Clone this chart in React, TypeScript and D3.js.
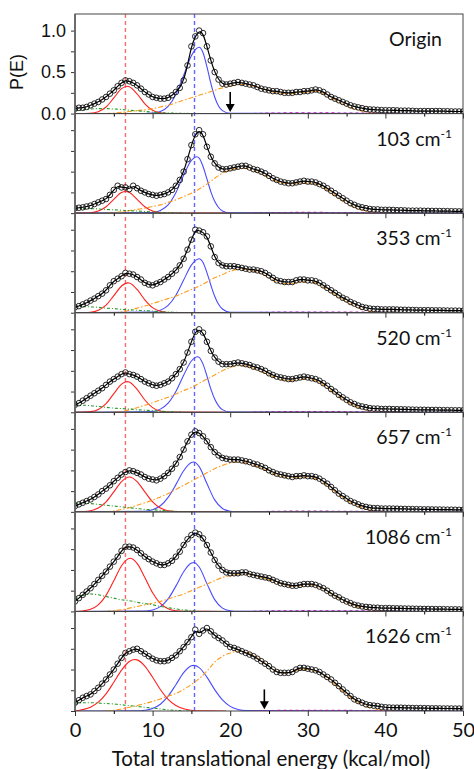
import React, { useRef, useEffect } from 'react'
import * as d3 from 'd3'

type Pt = [number, number]

// panels, top to bottom
const panelLabels = ['Origin', '103', '353', '520', '657', '1086', '1626']

// measured P(E) points, one every 0.5 kcal/mol from 0 to 50
const energyStep = 0.5

const pOrigin = [
  0.06, 0.07, 0.07, 0.08, 0.10, 0.12, 0.14, 0.17, 0.20, 0.24,
  0.28, 0.33, 0.37, 0.40, 0.39, 0.37, 0.34, 0.30, 0.26, 0.23,
  0.20, 0.19, 0.18, 0.18, 0.19, 0.22, 0.26, 0.31, 0.40, 0.58,
  0.81, 0.93, 1.00, 0.97, 0.81, 0.64, 0.50, 0.41, 0.36, 0.35,
  0.36, 0.37, 0.38, 0.37, 0.36, 0.35, 0.34, 0.32, 0.30, 0.29,
  0.28, 0.27, 0.27, 0.26, 0.25, 0.25, 0.25, 0.26, 0.26, 0.27,
  0.27, 0.28, 0.29, 0.28, 0.26, 0.23, 0.20, 0.18, 0.16, 0.14,
  0.12, 0.10, 0.085, 0.075, 0.065, 0.055, 0.05, 0.048, 0.045, 0.042,
  0.04, 0.04, 0.04, 0.038, 0.035, 0.035, 0.035, 0.033, 0.03, 0.03,
  0.03, 0.03, 0.03, 0.03, 0.03, 0.028, 0.028, 0.026, 0.025, 0.025,
  0.025,
]
const p103 = [
  0.06, 0.065, 0.07, 0.08, 0.09, 0.11, 0.13, 0.15, 0.17, 0.22,
  0.28, 0.33, 0.31, 0.31, 0.29, 0.33, 0.30, 0.27, 0.25, 0.23,
  0.22, 0.21, 0.22, 0.23, 0.25, 0.28, 0.33, 0.40, 0.50, 0.65,
  0.82, 0.95, 1.00, 0.95, 0.80, 0.68, 0.60, 0.55, 0.53, 0.53,
  0.54, 0.55, 0.56, 0.57, 0.57, 0.55, 0.53, 0.52, 0.50, 0.48,
  0.45, 0.42, 0.40, 0.38, 0.37, 0.36, 0.36, 0.37, 0.38, 0.39,
  0.38, 0.38, 0.37, 0.35, 0.33, 0.30, 0.27, 0.24, 0.21, 0.18,
  0.15, 0.12, 0.10, 0.08, 0.07, 0.06, 0.05, 0.045, 0.045, 0.04,
  0.04, 0.04, 0.038, 0.035, 0.035, 0.033, 0.03, 0.03, 0.03, 0.03,
  0.028, 0.028, 0.027, 0.026, 0.025, 0.025, 0.024, 0.023, 0.022, 0.021,
  0.02,
]
const p353 = [
  0.065, 0.08, 0.10, 0.12, 0.146, 0.17, 0.20, 0.23, 0.27, 0.33,
  0.38, 0.41, 0.44, 0.48, 0.47, 0.46, 0.43, 0.40, 0.36, 0.34,
  0.33, 0.35, 0.37, 0.40, 0.43, 0.47, 0.51, 0.57, 0.65, 0.76,
  0.88, 1.00, 0.99, 0.97, 0.92, 0.80, 0.67, 0.60, 0.57, 0.56,
  0.56, 0.56, 0.55, 0.54, 0.53, 0.52, 0.52, 0.51, 0.50, 0.48,
  0.45, 0.42, 0.39, 0.38, 0.37, 0.37, 0.37, 0.39, 0.40, 0.40,
  0.39, 0.39, 0.38, 0.36, 0.33, 0.30, 0.27, 0.24, 0.21, 0.18,
  0.16, 0.13, 0.11, 0.09, 0.07, 0.06, 0.05, 0.045, 0.045, 0.04,
  0.04, 0.04, 0.04, 0.038, 0.036, 0.035, 0.034, 0.033, 0.032, 0.03,
  0.03, 0.03, 0.029, 0.028, 0.028, 0.027, 0.026, 0.025, 0.025, 0.024,
  0.023,
]
const p520 = [
  0.09, 0.11, 0.14, 0.17, 0.20, 0.23, 0.26, 0.29, 0.33, 0.37,
  0.40, 0.43, 0.46, 0.48, 0.46, 0.45, 0.43, 0.40, 0.37, 0.35,
  0.33, 0.32, 0.33, 0.35, 0.37, 0.41, 0.46, 0.52, 0.60, 0.72,
  0.85, 0.97, 1.00, 0.96, 0.85, 0.74, 0.66, 0.61, 0.58, 0.58,
  0.58, 0.59, 0.60, 0.59, 0.58, 0.57, 0.55, 0.54, 0.52, 0.50,
  0.47, 0.45, 0.43, 0.42, 0.41, 0.40, 0.40, 0.41, 0.42, 0.43,
  0.42, 0.41, 0.40, 0.38, 0.35, 0.32, 0.28, 0.25, 0.21, 0.18,
  0.15, 0.12, 0.10, 0.08, 0.07, 0.06, 0.05, 0.045, 0.045, 0.04,
  0.04, 0.04, 0.038, 0.037, 0.036, 0.035, 0.034, 0.032, 0.031, 0.03,
  0.03, 0.029, 0.028, 0.028, 0.027, 0.026, 0.026, 0.025, 0.024, 0.024,
  0.023,
]
const p657 = [
  0.07, 0.09, 0.11, 0.13, 0.15, 0.18, 0.21, 0.25, 0.28, 0.32,
  0.37, 0.41, 0.45, 0.48, 0.50, 0.49, 0.47, 0.45, 0.42, 0.40,
  0.39, 0.38, 0.40, 0.43, 0.47, 0.52, 0.58, 0.66, 0.75, 0.85,
  0.93, 0.97, 0.95, 0.91, 0.85, 0.78, 0.72, 0.68, 0.65, 0.64,
  0.63, 0.63, 0.63, 0.62, 0.61, 0.60, 0.58, 0.57, 0.55, 0.53,
  0.50, 0.48, 0.46, 0.45, 0.44, 0.43, 0.42, 0.43, 0.43, 0.44,
  0.43, 0.43, 0.42, 0.40, 0.37, 0.34, 0.30, 0.26, 0.22, 0.19,
  0.16, 0.13, 0.11, 0.09, 0.07, 0.06, 0.05, 0.045, 0.045, 0.04,
  0.04, 0.04, 0.039, 0.038, 0.036, 0.035, 0.034, 0.033, 0.032, 0.031,
  0.03, 0.03, 0.029, 0.028, 0.028, 0.027, 0.026, 0.026, 0.025, 0.024,
  0.024,
]
const p1086 = [
  0.12, 0.16, 0.20, 0.24, 0.28, 0.33, 0.38, 0.43, 0.48, 0.54,
  0.60, 0.66, 0.73, 0.78, 0.78, 0.77, 0.74, 0.70, 0.66, 0.63,
  0.60, 0.58, 0.56, 0.56, 0.58, 0.61, 0.66, 0.72, 0.80, 0.87,
  0.92, 0.95, 0.93, 0.88, 0.80, 0.71, 0.62, 0.55, 0.50, 0.47,
  0.46, 0.46, 0.46, 0.47, 0.47, 0.45, 0.44, 0.43, 0.42, 0.41,
  0.40, 0.38, 0.36, 0.34, 0.33, 0.32, 0.31, 0.31, 0.32, 0.33,
  0.33, 0.33, 0.32, 0.30, 0.28, 0.25, 0.22, 0.19, 0.17, 0.14,
  0.12, 0.10, 0.08, 0.07, 0.06, 0.055, 0.05, 0.045, 0.045, 0.04,
  0.04, 0.04, 0.038, 0.037, 0.036, 0.035, 0.034, 0.033, 0.032, 0.031,
  0.03, 0.03, 0.029, 0.028, 0.028, 0.027, 0.026, 0.025, 0.025, 0.024,
  0.023,
]
const p1626 = [
  0.10, 0.13, 0.16, 0.18, 0.20, 0.24, 0.28, 0.33, 0.38, 0.44,
  0.50, 0.57, 0.64, 0.70, 0.72, 0.74, 0.75, 0.72, 0.69, 0.66,
  0.63, 0.61, 0.60, 0.60, 0.61, 0.64, 0.67, 0.72, 0.77, 0.83,
  0.89, 0.98, 0.93, 0.97, 1.00, 0.96, 0.91, 0.88, 0.85, 0.81,
  0.77, 0.76, 0.74, 0.72, 0.70, 0.68, 0.66, 0.63, 0.60, 0.57,
  0.54, 0.50, 0.47, 0.46, 0.46, 0.46, 0.47, 0.50, 0.52, 0.52,
  0.51, 0.50, 0.49, 0.47, 0.44, 0.41, 0.38, 0.34, 0.30, 0.26,
  0.22, 0.18, 0.14, 0.12, 0.10, 0.08, 0.07, 0.065, 0.06, 0.05,
  0.045, 0.042, 0.04, 0.04, 0.04, 0.038, 0.037, 0.036, 0.035, 0.035,
  0.034, 0.033, 0.032, 0.032, 0.031, 0.03, 0.03, 0.03, 0.029, 0.029,
  0.028,
]
const dataSets = [pOrigin, p103, p353, p520, p657, p1086, p1626]

// fitted components, [E, P]
const redFits: Pt[][] = [
  [[2, 0.004], [3, 0.023], [4, 0.079], [5, 0.188], [6, 0.30], [6.7, 0.33], [7, 0.324], [8, 0.237], [9, 0.118], [10, 0.039], [11, 0.009], [12, 0.001]],
  [[2, 0.005], [3, 0.025], [4, 0.077], [5, 0.167], [6, 0.248], [6.5, 0.26], [7, 0.248], [8, 0.167], [9, 0.077], [10, 0.025], [11, 0.005], [12, 0.001]],
  [[2, 0.006], [3, 0.03], [4, 0.092], [5, 0.205], [6, 0.322], [6.8, 0.36], [7, 0.357], [8, 0.28], [9, 0.156], [10, 0.061], [11, 0.017], [12, 0.003]],
  [[2, 0.008], [3, 0.034], [4, 0.105], [5, 0.224], [6, 0.34], [6.7, 0.37], [7, 0.364], [8, 0.276], [9, 0.148], [10, 0.056], [11, 0.015], [12, 0.003]],
  [[1, 0.003], [2, 0.013], [3, 0.046], [4, 0.12], [5, 0.241], [6, 0.365], [7, 0.42], [8, 0.365], [9, 0.241], [10, 0.12], [11, 0.046], [12, 0.013], [13, 0.003]],
  [[1, 0.006], [2, 0.025], [3, 0.078], [4, 0.193], [5, 0.369], [6, 0.551], [7.1, 0.64], [8, 0.578], [9, 0.408], [10, 0.224], [11, 0.096], [12, 0.032], [13, 0.008], [14, 0.002]],
  [[1, 0.017], [2, 0.046], [3, 0.106], [4, 0.207], [5, 0.346], [6, 0.492], [7, 0.596], [7.7, 0.62], [8, 0.616], [9, 0.542], [10, 0.406], [11, 0.259], [12, 0.141], [13, 0.066], [14, 0.026], [15, 0.009], [16, 0.002]],
]
const blueFits: Pt[][] = [
  [[9, 0.001], [10, 0.005], [11, 0.025], [12, 0.088], [13, 0.23], [14, 0.46], [15, 0.696], [15.5, 0.77], [16, 0.80], [16.5, 0.733], [17, 0.566], [17.5, 0.366], [18, 0.20], [18.5, 0.091], [19, 0.035], [20, 0.003]],
  [[10, 0.008], [11, 0.032], [12, 0.1], [13, 0.247], [14, 0.457], [15, 0.635], [15.7, 0.68], [16, 0.662], [16.5, 0.562], [17, 0.412], [17.5, 0.26], [18, 0.142], [18.5, 0.068], [19, 0.027], [20, 0.003]],
  [[10, 0.007], [11, 0.029], [12, 0.088], [13, 0.211], [14, 0.394], [15, 0.574], [16, 0.65], [16.5, 0.604], [17, 0.483], [17.5, 0.334], [18, 0.199], [18.5, 0.102], [19, 0.045], [20, 0.006]],
  [[10, 0.01], [11, 0.038], [12, 0.11], [13, 0.251], [14, 0.447], [15, 0.618], [15.8, 0.67], [16, 0.662], [16.5, 0.58], [17, 0.438], [17.5, 0.283], [18, 0.16], [18.5, 0.078], [19, 0.032], [20, 0.003]],
  [[9, 0.007], [10, 0.025], [11, 0.073], [12, 0.175], [13, 0.328], [14, 0.495], [15, 0.594], [15.3, 0.60], [16, 0.545], [17, 0.341], [18, 0.144], [19, 0.041], [20, 0.008], [21, 0.001]],
  [[9, 0.004], [10, 0.018], [11, 0.058], [12, 0.151], [13, 0.305], [14, 0.478], [15, 0.583], [15.3, 0.59], [16, 0.536], [17, 0.335], [18, 0.142], [19, 0.04], [20, 0.008], [21, 0.001]],
  [[8, 0.002], [9, 0.009], [10, 0.03], [11, 0.082], [12, 0.179], [13, 0.317], [14, 0.462], [15, 0.545], [15.3, 0.55], [16, 0.523], [17, 0.408], [18, 0.258], [19, 0.134], [20, 0.056], [21, 0.019], [22, 0.005]],
]
const orangeFits: Pt[][] = [
  [[4, 0], [5, 0.005], [6, 0.015], [7, 0.025], [8, 0.035], [9, 0.045], [10, 0.06], [11, 0.08], [12, 0.10], [13, 0.13], [14, 0.16], [15, 0.19], [16, 0.22], [17, 0.25], [18, 0.28], [19, 0.31], [20, 0.33], [21, 0.35], [22, 0.35], [23, 0.33], [24, 0.30], [25, 0.27], [26, 0.25], [27, 0.24], [28, 0.24], [29, 0.25], [30, 0.26], [31, 0.27], [32, 0.24], [33, 0.19], [34, 0.14], [35, 0.09], [36, 0.055], [37, 0.03], [38, 0.012], [39, 0.004], [40, 0]],
  [[4, 0], [5, 0.005], [6, 0.015], [7, 0.03], [8, 0.045], [9, 0.06], [10, 0.08], [11, 0.10], [12, 0.13], [13, 0.16], [14, 0.20], [15, 0.24], [16, 0.29], [17, 0.35], [18, 0.42], [19, 0.48], [20, 0.52], [21, 0.54], [22, 0.54], [23, 0.51], [24, 0.47], [25, 0.43], [26, 0.38], [27, 0.36], [28, 0.35], [29, 0.36], [30, 0.36], [31, 0.35], [32, 0.31], [33, 0.25], [34, 0.18], [35, 0.12], [36, 0.07], [37, 0.035], [38, 0.015], [39, 0.005], [40, 0]],
  [[5, 0], [6, 0.01], [7, 0.03], [8, 0.055], [9, 0.08], [10, 0.11], [11, 0.14], [12, 0.17], [13, 0.20], [14, 0.24], [15, 0.28], [16, 0.32], [17, 0.37], [18, 0.42], [19, 0.46], [20, 0.50], [21, 0.52], [22, 0.52], [23, 0.50], [24, 0.47], [25, 0.42], [26, 0.37], [27, 0.35], [28, 0.35], [29, 0.37], [30, 0.37], [31, 0.36], [32, 0.31], [33, 0.25], [34, 0.19], [35, 0.13], [36, 0.08], [37, 0.04], [38, 0.015], [39, 0.005], [40, 0]],
  [[5, 0], [6, 0.01], [7, 0.03], [8, 0.055], [9, 0.085], [10, 0.115], [11, 0.15], [12, 0.18], [13, 0.22], [14, 0.26], [15, 0.30], [16, 0.35], [17, 0.40], [18, 0.45], [19, 0.50], [20, 0.54], [21, 0.56], [22, 0.56], [23, 0.53], [24, 0.49], [25, 0.45], [26, 0.41], [27, 0.39], [28, 0.38], [29, 0.40], [30, 0.40], [31, 0.38], [32, 0.33], [33, 0.26], [34, 0.19], [35, 0.13], [36, 0.08], [37, 0.04], [38, 0.015], [39, 0.005], [40, 0]],
  [[4, 0], [5, 0.01], [6, 0.03], [7, 0.05], [8, 0.08], [9, 0.11], [10, 0.14], [11, 0.18], [12, 0.22], [13, 0.27], [14, 0.32], [15, 0.37], [16, 0.42], [17, 0.47], [18, 0.52], [19, 0.56], [20, 0.59], [21, 0.60], [22, 0.59], [23, 0.56], [24, 0.53], [25, 0.48], [26, 0.44], [27, 0.42], [28, 0.41], [29, 0.42], [30, 0.42], [31, 0.40], [32, 0.35], [33, 0.28], [34, 0.21], [35, 0.14], [36, 0.09], [37, 0.05], [38, 0.02], [39, 0.006], [40, 0]],
  [[4, 0], [5, 0.01], [6, 0.02], [7, 0.04], [8, 0.06], [9, 0.08], [10, 0.10], [11, 0.12], [12, 0.15], [13, 0.18], [14, 0.21], [15, 0.25], [16, 0.29], [17, 0.33], [18, 0.37], [19, 0.41], [20, 0.43], [21, 0.45], [22, 0.45], [23, 0.43], [24, 0.41], [25, 0.38], [26, 0.35], [27, 0.32], [28, 0.30], [29, 0.31], [30, 0.32], [31, 0.31], [32, 0.27], [33, 0.21], [34, 0.16], [35, 0.11], [36, 0.07], [37, 0.04], [38, 0.015], [39, 0.005], [40, 0]],
  [[4, 0], [5, 0.01], [6, 0.025], [7, 0.045], [8, 0.065], [9, 0.09], [10, 0.115], [11, 0.145], [12, 0.18], [13, 0.21], [14, 0.26], [15, 0.32], [16, 0.39], [17, 0.48], [18, 0.59], [19, 0.66], [20, 0.70], [21, 0.72], [22, 0.71], [23, 0.67], [24, 0.61], [25, 0.54], [26, 0.48], [27, 0.46], [28, 0.47], [29, 0.50], [30, 0.50], [31, 0.48], [32, 0.43], [33, 0.36], [34, 0.28], [35, 0.20], [36, 0.13], [37, 0.08], [38, 0.04], [39, 0.015], [40, 0.005], [41, 0]],
]
const greenFits: Pt[][] = [
  [[0, 0.03], [1, 0.045], [2, 0.055], [3, 0.06], [4, 0.06], [5, 0.055], [6, 0.05], [7, 0.04], [8, 0.033], [9, 0.025], [10, 0.018], [11, 0.012], [12, 0.008], [13, 0.005], [14, 0.003], [15, 0]],
  [[0, 0.05], [1, 0.055], [2, 0.055], [3, 0.05], [4, 0.045], [5, 0.04], [6, 0.035], [7, 0.03], [8, 0.025], [9, 0.02], [10, 0.015], [11, 0.01], [12, 0.006], [13, 0.003], [14, 0]],
  [[0, 0.07], [1, 0.075], [2, 0.07], [3, 0.065], [4, 0.055], [5, 0.05], [6, 0.04], [7, 0.035], [8, 0.03], [9, 0.025], [10, 0.02], [11, 0.013], [12, 0.008], [13, 0.004], [14, 0]],
  [[0, 0.08], [1, 0.085], [2, 0.08], [3, 0.07], [4, 0.06], [5, 0.05], [6, 0.045], [7, 0.04], [8, 0.03], [9, 0.025], [10, 0.02], [11, 0.013], [12, 0.008], [13, 0.004], [14, 0]],
  [[0, 0.10], [1, 0.11], [2, 0.10], [3, 0.09], [4, 0.08], [5, 0.07], [6, 0.06], [7, 0.05], [8, 0.04], [9, 0.03], [10, 0.025], [11, 0.018], [12, 0.012], [13, 0.006], [14, 0.003], [15, 0]],
  [[0, 0.15], [1, 0.19], [2, 0.21], [3, 0.20], [4, 0.18], [5, 0.16], [6, 0.14], [7, 0.13], [8, 0.11], [9, 0.095], [10, 0.08], [11, 0.06], [12, 0.045], [13, 0.03], [14, 0.018], [15, 0.008], [16, 0]],
  [[0, 0.08], [1, 0.10], [2, 0.10], [3, 0.095], [4, 0.09], [5, 0.085], [6, 0.075], [7, 0.065], [8, 0.055], [9, 0.045], [10, 0.035], [11, 0.025], [12, 0.015], [13, 0.008], [14, 0.003], [15, 0]],
]
const purpleFit: Pt[] = [[23, 0], [26, 0.006], [30, 0.008], [35, 0.006], [40, 0.004], [43, 0]]

const redGuide = 6.5
const blueGuide = 15.4
const arrowMarks = [
  { panel: 0, energy: 20 },
  { panel: 6, energy: 24.4 },
]
const xMajorTicks = [0, 10, 20, 30, 40, 50]
const xMinorTicks = [5, 15, 25, 35, 45]
const yTicks = [0, 0.25, 0.5, 0.75, 1.0]
const yLabelTicks = [0, 0.5, 1.0]

export default function App() {
  const ref = useRef<SVGSVGElement>(null)

  useEffect(() => {
    const svg = d3.select(ref.current)
    svg.selectAll('*').remove()

    const left = 75
    const right = 463
    const top = 14
    const bottom = 711
    const panelH = (bottom - top) / panelLabels.length

    const x = d3.scaleLinear().domain([0, 50]).range([left, right])
    const y = d3.scaleLinear().domain([0, 1.2]).range([panelH, 0])

    const smooth = d3.line<Pt>().x(d => x(d[0])).y(d => y(d[1])).curve(d3.curveMonotoneX)
    const fitLine = d3.line<Pt>().x(d => x(d[0])).y(d => y(d[1])).curve(d3.curveBasis)

    // guide lines through all panels
    const guides = svg.append('g')
    ;[
      { e: redGuide, c: '#ff6a6a' },
      { e: blueGuide, c: '#6464ff' },
    ].forEach(gd => {
      guides.append('line')
        .attr('x1', x(gd.e)).attr('x2', x(gd.e))
        .attr('y1', top).attr('y2', bottom)
        .attr('stroke', gd.c).attr('stroke-width', 1.4)
        .attr('stroke-dasharray', '4,3')
    })

    panelLabels.forEach((label, i) => {
      const g = svg.append('g').attr('transform', `translate(0,${top + i * panelH})`)
      const clipId = `panel-clip-${i}`
      g.append('clipPath').attr('id', clipId)
        .append('rect').attr('x', left).attr('y', 0).attr('width', right - left).attr('height', panelH)
      const plot = g.append('g').attr('clip-path', `url(#${clipId})`)

      const pts: Pt[] = dataSets[i].map((v, k) => [k * energyStep, v])

      // components
      plot.append('path').datum([[0, 0] as Pt, ...blueFits[i], [50, 0] as Pt])
        .attr('d', smooth).attr('fill', 'none').attr('stroke', '#4a4aff').attr('stroke-width', 1.1)
      plot.append('path').datum([[0, 0] as Pt, ...redFits[i], [19.5, 0] as Pt])
        .attr('d', smooth).attr('fill', 'none').attr('stroke', '#ff2020').attr('stroke-width', 1.1)
      plot.append('path').datum(orangeFits[i])
        .attr('d', smooth).attr('fill', 'none').attr('stroke', '#ff9a1a').attr('stroke-width', 1.1)
        .attr('stroke-dasharray', '5,2,1.5,2')
      plot.append('path').datum(greenFits[i])
        .attr('d', smooth).attr('fill', 'none').attr('stroke', '#2a9a2a').attr('stroke-width', 1.1)
        .attr('stroke-dasharray', '3,2,1,2')
      plot.append('path').datum(purpleFit)
        .attr('d', smooth).attr('fill', 'none').attr('stroke', '#c020c0').attr('stroke-width', 1.3)
        .attr('stroke-dasharray', '3,3')

      // data
      plot.append('g').selectAll('circle').data(pts).enter().append('circle')
        .attr('cx', d => x(d[0])).attr('cy', d => y(d[1])).attr('r', 2.8)
        .attr('fill', 'none').attr('stroke', '#111').attr('stroke-width', 0.9)
      plot.append('path').datum(pts)
        .attr('d', fitLine).attr('fill', 'none').attr('stroke', '#000').attr('stroke-width', 1.2)

      // frame
      g.append('rect').attr('x', left).attr('y', 0).attr('width', right - left).attr('height', panelH)
        .attr('fill', 'none').attr('stroke', '#444').attr('stroke-width', 1)

      // y axis
      const yAxis = g.append('g').attr('transform', `translate(${left},0)`)
        .call(d3.axisLeft(y).tickValues(yTicks).tickSize(4)
          .tickFormat(d => (i === 0 && yLabelTicks.includes(+d) ? d3.format('.1f')(+d) : '')))
      yAxis.select('.domain').remove()
      yAxis.selectAll('line').attr('stroke', '#333')
      yAxis.selectAll('text').attr('font-family', '"Liberation Sans", Arial, sans-serif')
        .attr('font-size', 18).attr('fill', '#111').attr('dx', -2)

      // x ticks
      const xMinor = g.append('g').attr('transform', `translate(0,${panelH})`)
        .call(d3.axisBottom(x).tickValues(xMinorTicks).tickSize(3).tickFormat(() => ''))
      xMinor.select('.domain').remove()
      const xMajor = g.append('g').attr('transform', `translate(0,${panelH})`)
        .call(d3.axisBottom(x).tickValues(xMajorTicks).tickSize(5).tickPadding(7)
          .tickFormat(d => (i === panelLabels.length - 1 ? String(d) : '')))
      xMajor.select('.domain').remove()
      xMajor.selectAll('line').attr('stroke', '#333')
      xMajor.selectAll('text').attr('font-family', 'Lato, sans-serif').attr('font-size', 20).attr('fill', '#111')

      // left spine a bit heavier
      g.append('line').attr('x1', left).attr('x2', left).attr('y1', 0).attr('y2', panelH)
        .attr('stroke', '#666').attr('stroke-width', 1.8)

      // panel label
      const t = g.append('text')
        .attr('x', label === 'Origin' ? 442 : 452).attr('y', 32)
        .attr('text-anchor', 'end')
        .attr('font-family', 'Lato, sans-serif').attr('font-size', 19.5).attr('fill', '#111')
      if (label === 'Origin') {
        t.text(label)
      } else {
        t.append('tspan').text(`${label} cm`)
        t.append('tspan').attr('font-size', 12).attr('dy', -8).text('-1')
      }
    })

    // arrows
    arrowMarks.forEach(a => {
      const oy = top + a.panel * panelH
      const ax = x(a.energy)
      const y0 = oy + y(0.26)
      const y1 = oy + y(0.02)
      svg.append('line').attr('x1', ax).attr('x2', ax).attr('y1', y0).attr('y2', y1 - 6)
        .attr('stroke', '#000').attr('stroke-width', 1.6)
      svg.append('path')
        .attr('d', `M${ax - 4.5},${y1 - 8} L${ax + 4.5},${y1 - 8} L${ax},${y1} Z`)
        .attr('fill', '#000')
    })

    // axis titles
    svg.append('text')
      .attr('transform', `translate(23,72) rotate(-90)`)
      .attr('text-anchor', 'middle')
      .attr('font-family', '"Liberation Sans", Arial, sans-serif').attr('font-size', 18).attr('fill', '#111')
      .text('P(E)')
    svg.append('text')
      .attr('x', 271).attr('y', 766)
      .attr('text-anchor', 'middle')
      .attr('font-family', 'Lato, sans-serif').attr('font-size', 20.5).attr('fill', '#111')
      .text('Total translational energy (kcal/mol)')
  }, [])

  return (
    <svg
      ref={ref}
      width={474}
      height={769}
      style={{ position: 'absolute', left: 0, top: 0, background: '#fff' }}
    />
  )
}
